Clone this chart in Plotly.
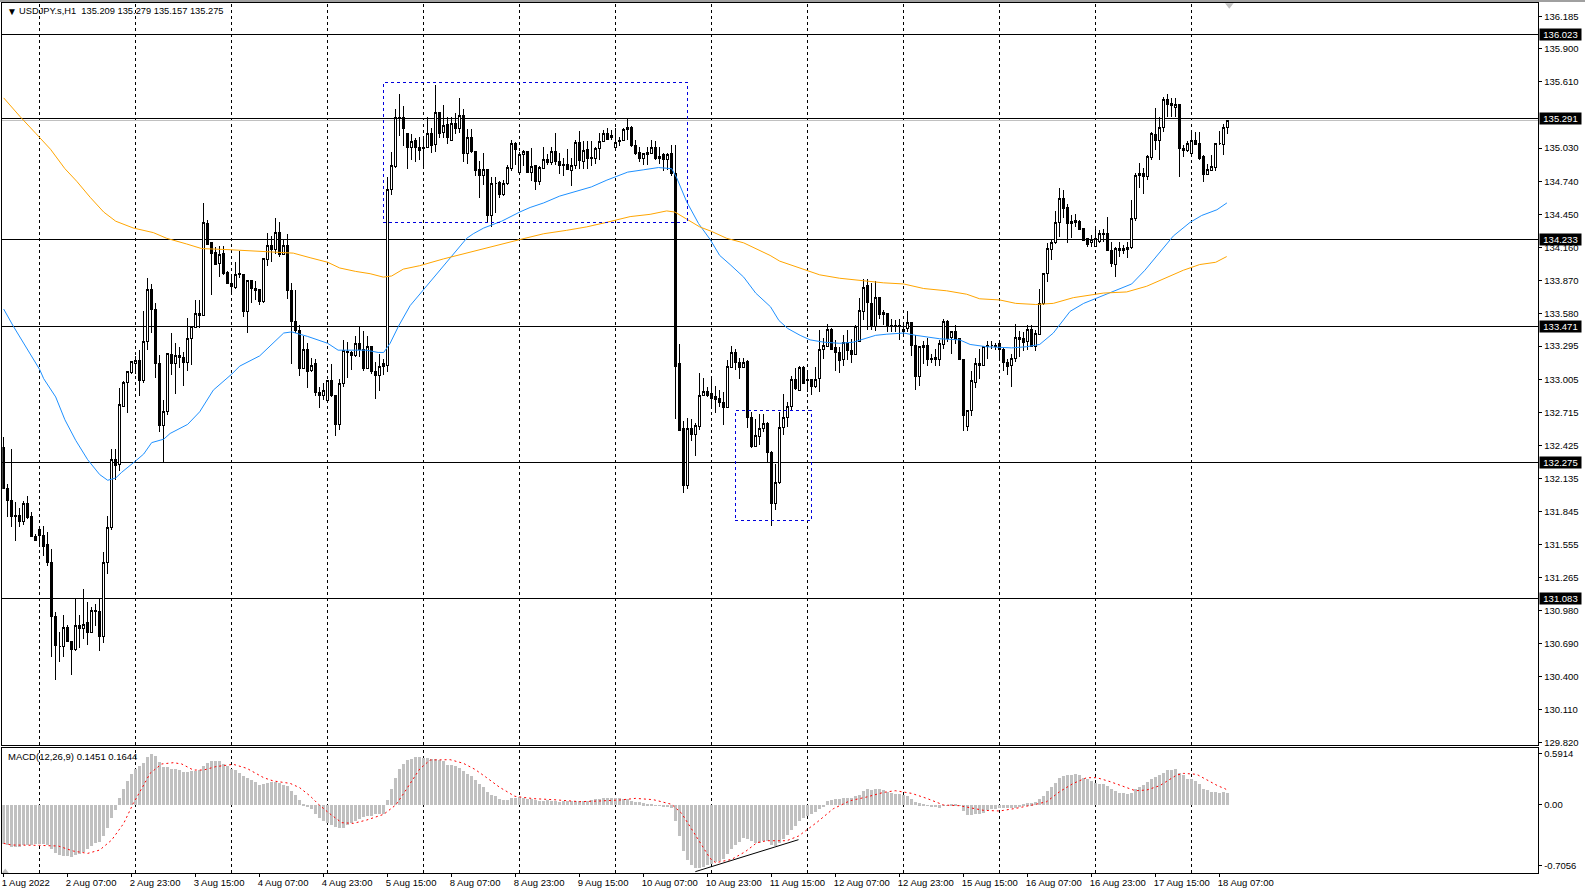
import plotly.graph_objects as go

opens = [132.41,132.05,131.94,131.81,131.81,131.76,131.92,131.80,131.63,131.69,
131.64,131.56,131.40,130.93,130.66,130.66,130.83,130.71,130.64,130.85,
130.82,130.87,130.79,130.98,130.97,130.75,131.40,131.71,132.30,132.26,
132.77,132.98,133.06,133.14,133.17,132.99,133.34,133.79,133.62,133.14,
132.60,132.72,133.22,133.14,133.21,133.20,133.15,133.36,133.46,133.58,
133.56,134.37,134.20,134.12,134.02,134.11,133.94,133.84,133.81,133.93,
133.92,133.60,133.87,133.80,133.79,133.69,134.05,134.18,134.14,134.29,
134.10,134.18,133.78,133.51,133.43,133.10,133.27,133.08,133.14,132.89,
132.86,132.82,132.99,132.86,132.61,132.97,133.25,133.24,133.21,133.32,
133.27,133.10,133.29,133.07,133.04,133.14,133.13,134.67,134.87,135.30,
135.30,135.16,135.04,135.10,135.04,135.04,135.04,135.16,135.06,135.34,
135.17,135.24,135.10,135.25,135.20,135.32,134.98,135.12,135.00,134.84,
134.79,134.84,134.44,134.72,134.73,134.62,134.72,134.85,135.07,134.82,
134.97,135.00,134.82,134.88,134.74,134.85,134.93,134.90,135.00,134.91,
134.89,134.89,134.83,134.88,135.08,134.91,135.02,134.95,134.94,135.03,
135.09,135.16,135.12,135.04,135.09,135.10,135.19,135.21,135.05,134.99,
134.94,134.97,134.98,135.04,134.94,134.97,134.93,134.98,134.81,133.14,
132.57,132.07,132.57,132.52,132.59,132.86,132.90,132.88,132.85,132.84,
132.80,132.76,133.11,133.24,133.15,133.11,133.16,132.67,132.42,132.50,
132.57,132.62,132.36,131.92,132.10,132.58,132.67,132.77,133.00,132.91,
133.11,133.00,133.00,132.94,133.01,133.27,133.29,133.44,133.28,133.24,
133.18,133.33,133.26,133.22,133.34,133.60,133.83,133.67,133.47,133.72,
133.59,133.58,133.48,133.48,133.48,133.42,133.45,133.50,133.30,133.03,
133.30,133.30,133.19,133.20,133.18,133.31,133.51,133.37,133.42,133.36,
133.18,132.59,132.73,132.98,133.14,133.13,133.29,133.30,133.30,133.32,
133.27,133.15,133.13,133.19,133.37,133.36,133.34,133.44,133.29,133.40,
133.67,133.93,134.14,134.20,134.38,134.59,134.51,134.39,134.38,134.39,
134.33,134.24,134.20,134.17,134.21,134.28,134.28,134.13,134.01,134.15,
134.13,134.14,134.16,134.41,134.81,134.81,134.78,134.95,135.15,135.10,
135.21,135.455,135.42,135.39,135.41,135.03,135.01,134.98,135.10,135.07,
134.96,134.80,134.83,134.86,135.07,135.06,135.209]

highs = [132.50,132.09,132.39,131.93,131.88,131.94,131.98,131.84,131.65,131.72,
131.72,131.67,131.52,130.97,130.79,130.94,130.85,130.71,131.08,130.94,
131.17,131.05,131.01,131.04,131.08,131.49,131.81,132.39,132.39,132.93,
132.99,133.08,133.16,133.21,133.26,133.60,133.89,133.84,133.67,133.22,
132.82,133.23,133.41,133.32,133.29,133.24,133.54,133.47,133.70,133.70,
134.55,134.40,134.20,134.16,134.17,134.17,133.95,133.92,134.03,134.13,
133.92,133.87,133.87,133.87,133.79,134.06,134.29,134.26,134.42,134.38,
134.23,134.28,133.85,133.79,133.48,133.38,133.32,133.19,133.18,132.94,
132.97,133.00,133.14,132.86,133.01,133.35,133.33,133.25,133.38,133.46,
133.43,133.38,133.30,133.16,133.23,133.18,134.78,135.00,135.37,135.50,
135.40,135.16,135.15,135.12,135.13,135.12,135.30,135.21,135.58,135.34,
135.41,135.30,135.30,135.34,135.47,135.37,135.20,135.20,135.00,134.92,
134.99,134.84,134.78,134.78,134.74,134.75,134.88,135.10,135.08,135.00,
135.01,135.00,135.03,134.88,134.87,135.04,134.98,135.04,135.16,134.99,
134.94,135.02,134.94,135.10,135.18,135.09,135.09,135.09,135.04,135.16,
135.19,135.21,135.19,135.21,135.13,135.21,135.29,135.22,135.10,135.04,
134.99,135.04,135.10,135.09,135.04,134.99,134.99,135.06,135.06,133.31,
132.64,132.67,132.66,132.62,133.06,133.02,132.94,133.02,132.95,132.91,
132.89,133.17,133.30,133.27,133.19,133.19,133.17,132.72,132.66,132.70,
132.70,132.63,132.38,132.26,132.72,132.88,132.81,133.03,133.10,133.12,
133.12,133.08,133.01,133.11,133.44,133.37,133.49,133.45,133.35,133.29,
133.39,133.44,133.36,133.48,133.72,133.88,133.88,133.85,133.87,133.72,
133.61,133.58,133.53,133.52,133.53,133.48,133.60,133.51,133.39,133.30,
133.34,133.37,133.23,133.27,133.35,133.53,133.52,133.43,133.48,133.37,
133.18,132.74,133.08,133.19,133.27,133.29,133.34,133.34,133.32,133.32,
133.28,133.18,133.23,133.49,133.43,133.42,133.48,133.48,133.44,133.80,
133.94,134.20,134.23,134.48,134.68,134.66,134.54,134.44,134.45,134.40,
134.33,134.24,134.27,134.33,134.31,134.32,134.43,134.21,134.16,134.21,
134.18,134.21,134.58,134.81,134.90,134.86,134.97,135.17,135.385,135.30,
135.48,135.50,135.47,135.47,135.42,135.06,135.09,135.17,135.17,135.17,
134.97,134.89,134.97,135.07,135.18,135.24,135.279]

lows = [132.05,131.80,131.71,131.59,131.71,131.73,131.78,131.62,131.59,131.55,
131.46,131.37,130.57,130.37,130.53,130.57,130.71,130.41,130.62,130.65,
130.73,130.68,130.79,130.84,130.62,130.69,131.30,131.68,132.12,132.20,
132.76,132.71,133.05,133.05,132.86,132.97,133.26,133.41,133.02,132.54,
132.28,132.69,133.04,132.88,133.10,132.95,133.08,133.13,133.45,133.45,
133.56,134.18,133.74,134.01,133.90,133.92,133.84,133.75,133.80,133.89,
133.55,133.41,133.67,133.70,133.66,133.67,134.00,134.03,134.10,134.08,
134.09,133.71,133.14,133.41,133.03,133.10,132.93,133.07,132.86,132.75,
132.82,132.80,132.85,132.51,132.56,132.94,133.02,133.09,133.20,133.20,
133.08,133.10,133.05,132.83,132.90,133.04,133.07,134.62,134.86,135.14,
135.05,134.85,134.93,134.91,134.93,134.86,135.03,134.99,135.00,135.12,
135.12,135.07,135.10,135.15,135.16,134.91,134.89,134.99,134.79,134.59,
134.71,134.38,134.34,134.46,134.59,134.61,134.71,134.83,134.88,134.81,
134.87,134.81,134.74,134.66,134.71,134.85,134.88,134.88,134.88,134.80,
134.79,134.84,134.70,134.85,134.85,134.85,134.85,134.87,134.89,134.93,
135.08,135.10,135.10,135.02,135.05,135.10,135.10,135.04,134.97,134.91,
134.88,134.88,134.98,134.93,134.89,134.83,134.84,134.79,132.66,132.55,
132.01,132.04,132.46,132.33,132.56,132.86,132.85,132.75,132.71,132.76,
132.60,132.75,133.11,133.09,133.01,133.11,132.58,132.40,132.42,132.43,
132.54,132.27,131.72,131.86,132.09,132.52,132.59,132.73,132.91,132.90,
132.96,132.89,132.87,132.93,132.89,133.18,133.29,133.26,133.08,133.06,
133.12,133.17,133.15,133.22,133.34,133.52,133.44,133.44,133.43,133.53,
133.48,133.42,133.42,133.42,133.35,133.39,133.42,133.21,132.91,132.95,
133.14,133.12,133.15,133.12,133.12,133.27,133.33,133.23,133.31,133.17,
132.55,132.55,132.68,132.93,133.01,133.12,133.18,133.27,133.26,133.18,
133.08,133.04,132.94,133.16,133.20,133.25,133.26,133.29,133.25,133.39,
133.66,133.86,134.05,134.19,134.25,134.42,134.20,134.24,134.34,134.32,
134.22,134.16,134.16,134.16,134.20,134.21,134.13,133.99,133.90,134.08,
134.10,134.07,134.15,134.39,134.68,134.63,134.75,134.93,135.01,134.93,
135.17,135.30,135.30,135.30,134.78,134.95,135.00,134.97,135.06,134.93,
134.73,134.80,134.83,134.83,135.06,134.97,135.157]

closes = [132.05,131.94,131.80,131.80,131.76,131.92,131.79,131.63,131.59,131.64,
131.54,131.40,130.93,130.67,130.66,130.83,130.71,130.64,130.85,130.82,
130.86,130.79,130.98,130.97,130.75,131.40,131.71,132.30,132.25,132.78,
132.98,133.07,133.16,133.17,132.99,133.34,133.79,133.62,133.14,132.60,
132.72,133.23,133.14,133.21,133.20,133.15,133.36,133.47,133.58,133.56,
134.38,134.19,134.11,134.01,134.10,133.93,133.84,133.82,133.92,133.92,
133.60,133.87,133.80,133.78,133.69,134.06,134.18,134.14,134.29,134.10,
134.18,133.78,133.51,133.43,133.10,133.27,133.07,133.13,132.89,132.86,
132.91,132.99,132.86,132.61,132.97,133.26,133.24,133.21,133.32,133.27,
133.10,133.29,133.07,133.04,133.12,133.12,134.67,134.88,135.30,135.29,
135.20,135.04,135.09,135.04,135.01,135.03,135.16,135.05,135.34,135.16,
135.23,135.12,135.25,135.20,135.32,134.98,135.12,135.00,134.83,134.79,
134.84,134.44,134.72,134.72,134.62,134.72,134.86,135.07,135.02,134.97,
135.00,134.82,134.87,134.74,134.86,134.93,134.90,135.00,134.91,134.88,
134.88,134.84,134.88,135.08,134.92,135.01,134.94,134.94,135.03,135.09,
135.16,135.11,135.14,135.08,135.10,135.19,135.21,135.05,134.98,134.94,
134.98,134.99,135.04,134.94,134.96,134.93,134.97,134.81,133.12,132.56,
132.07,132.57,132.52,132.60,132.86,132.90,132.86,132.84,132.83,132.80,
132.76,133.12,133.24,133.15,133.11,133.15,132.67,132.42,132.51,132.57,
132.62,132.36,131.92,132.10,132.58,132.67,132.77,133.00,132.92,133.11,
132.97,132.99,132.94,133.00,133.27,133.30,133.44,133.27,133.24,133.17,
133.33,133.26,133.22,133.47,133.61,133.81,133.68,133.47,133.72,133.57,
133.57,133.47,133.47,133.47,133.47,133.44,133.50,133.30,133.03,133.29,
133.28,133.18,133.18,133.18,133.32,133.51,133.36,133.42,133.35,133.18,
132.69,132.73,132.99,133.14,133.13,133.29,133.30,133.30,133.29,133.27,
133.15,133.12,133.19,133.37,133.35,133.33,133.44,133.29,133.41,133.67,
133.93,134.15,134.20,134.38,134.59,134.50,134.37,134.37,134.40,134.32,
134.22,134.19,134.23,134.24,134.28,134.27,134.13,134.02,134.15,134.13,
134.15,134.16,134.41,134.79,134.79,134.78,134.96,135.16,135.10,135.21,
135.46,135.41,135.40,135.41,135.03,135.01,135.07,135.10,135.06,134.94,
134.80,134.84,134.87,135.07,135.07,135.21,135.275]

macd_hist = [-.449,-.460,-.487,-.487,-.487,-.468,-.468,-.460,-.456,-.456,
-.456,-.468,-.507,-.553,-.576,-.592,-.592,-.603,-.584,-.565,
-.545,-.514,-.476,-.445,-.429,-.360,-.267,-.151,-.062,.077,
.186,.278,.356,.422,.449,.487,.553,.588,.568,.499,
.441,.441,.422,.414,.402,.383,.383,.394,.394,.402,
.449,.491,.507,.507,.507,.480,.449,.422,.402,.375,
.336,.313,.294,.267,.236,.244,.251,.267,.267,.255,
.236,.217,.159,.112,.054,.015,-.023,-.050,-.101,-.151,
-.189,-.205,-.228,-.255,-.267,-.267,-.228,-.205,-.189,-.159,
-.139,-.131,-.131,-.108,-.108,-.108,.054,.182,.313,.414,
.480,.518,.538,.553,.553,.545,.545,.530,.530,.518,
.507,.468,.460,.452,.433,.391,.364,.336,.286,.240,
.209,.151,.120,.101,.066,.054,.054,.081,.085,.089,
.085,.073,.066,.054,.046,.046,.054,.046,.043,.035,
.043,.043,.043,.046,.046,.046,.046,.054,.066,.073,
.081,.081,.081,.085,.085,.073,.066,.046,.035,.035,
.023,.015,.008,-.001,-.004,-.012,-.015,-.031,-.189,-.364,
-.538,-.634,-.700,-.727,-.731,-.719,-.700,-.688,-.661,-.650,
-.630,-.565,-.514,-.468,-.429,-.379,-.398,-.422,-.437,-.437,
-.422,-.422,-.468,-.476,-.437,-.398,-.352,-.286,-.244,-.186,
-.151,-.131,-.108,-.081,-.050,-.012,.046,.054,.066,.066,
.077,.077,.077,.101,.120,.159,.182,.170,.182,.182,
.170,.151,.143,.131,.124,.112,.101,.073,.031,.023,
.012,-.008,-.015,-.023,-.039,-.008,-.004,.008,.008,-.004,
-.073,-.120,-.120,-.108,-.108,-.089,-.062,-.050,-.043,-.035,
-.035,-.035,-.035,-.035,-.012,.008,.019,.019,.035,.066,
.101,.159,.209,.255,.313,.336,.344,.344,.356,.344,
.313,.298,.275,.259,.247,.240,.220,.182,.159,.143,
.135,.124,.135,.182,.209,.228,.263,.298,.329,.344,
.375,.402,.402,.414,.375,.344,.305,.305,.275,.240,
.189,.170,.147,.147,.135,.147,.145]

blue_ma_bar = [0,2.4,9,10,13,15.3,18,21,24,26,28,29.5,33,35,37,40,41.6,46,49,52.4,57,59,64,66.6,70,72,76,81,83.6,87,90.6,93.6,95,96.6,98.7,101.6,104,
115.75,117.4,120,124.5,126.6,129,131.6,135,139,143,146.9,150.8,153,156,159.9,163.7,167,168.25,170.75,173.7,176.6,179,181.6,185,188,191.7,193.8,196,199.1,201.6,205,209,212.4,215,218,220.8,225,228,234,239,241.6,245.7,252,255.7,259,262.4,266.6,270,272.8,276.6,282,285.3,289,292.4,296.6,299.5,303.3,305.8]
blue_ma_val = [133.62,133.47,133.09,133.01,132.85,132.65,132.47,132.30,132.17,132.12,132.14,132.19,132.29,132.35,132.45,132.48,132.53,132.61,132.72,132.91,133.05,133.12,133.21,133.30,133.41,133.42,133.38,133.32,133.26,133.26,133.26,133.24,133.24,133.32,133.47,133.65,133.75,
134.24,134.28,134.33,134.39,134.43,134.47,134.51,134.55,134.61,134.65,134.69,134.75,134.78,134.82,134.84,134.86,134.85,134.77,134.56,134.37,134.23,134.09,134.01,133.90,133.76,133.64,133.52,133.45,133.39,133.35,133.33,133.32,133.33,133.36,133.39,133.40,133.41,133.39,133.36,133.35,133.31,133.29,133.28,133.29,133.31,133.41,133.60,133.67,133.71,133.77,133.84,133.96,134.12,134.26,134.38,134.44,134.49,134.55]

orange_ma_bar = [0,4,8,11.7,15.3,18.25,21.6,25,28,32.4,37.4,40.75,45.75,49.5,56.6,62.4,67.4,72.4,76.6,81,84,88,91.6,94.9,97,99.9,104,110,130.3,135,140.75,145.75,150.75,156.6,161.6,165.75,167.8,171.6,174,177,180.75,185,191.6,194,197.4,200.75,204,209,214,219.9,225,230,235.75,240.75,244,249,253,258,262.4,267.4,274.9,280.75,285.75,290.75,294.9,299,303,305.75]
orange_ma_val = [135.47,135.31,135.16,135.02,134.85,134.74,134.60,134.47,134.39,134.33,134.29,134.24,134.19,134.15,134.14,134.13,134.12,134.11,134.07,134.03,133.98,133.95,133.93,133.90,133.91,133.97,134.00,134.06,134.24,134.28,134.31,134.34,134.38,134.43,134.45,134.48,134.47,134.39,134.34,134.30,134.24,134.20,134.09,134.04,134.00,133.96,133.92,133.89,133.87,133.85,133.84,133.80,133.78,133.75,133.71,133.70,133.67,133.66,133.67,133.72,133.76,133.77,133.82,133.90,133.96,134.01,134.03,134.08]

signal_bar = [0,2,9,13.7,17.4,21,24,27,30,32.4,35,36.6,39.5,42.4,44.5,47.4,50,53,57.4,60.75,65,67.4,71.6,74,76.6,78.7,81.6,84.5,87.4,90.75,95,98,100,102.8,
104,106.6,111.6,114.9,117.8,120.75,124,127.8,132.4,137.4,144,149,154,158,162.4,167,169.5,171.6,174.5,176.6,178,182,185.4,188.3,190.75,195.75,198.7,203.3,207.4,
211.6,215.75,220,222.9,227,230.75,235,239,241.6,245,249,253,258,260.75,264,267.4,270.75,273.3,276.6,279.9,282.9,285.75,289,293.25,295,298.25,300.75,303.6,305.3,306]
signal_val = [-.449,-.468,-.472,-.480,-.538,-.565,-.526,-.410,-.217,.015,.228,.364,.472,.487,.472,.402,.402,.441,.468,.422,.313,.275,.247,.197,.101,.004,-.108,-.209,-.217,-.178,-.112,-.004,.131,.325,
.414,.518,.522,.480,.410,.313,.201,.097,.070,.058,.035,.043,.054,.073,.058,.004,-.101,-.255,-.460,-.623,-.673,-.634,-.545,-.441,-.418,-.418,-.364,-.205,-.047,
.046,.089,.143,.162,.131,.073,-.004,-.012,-.039,-.066,-.073,-.043,.004,.035,.151,.247,.313,.313,.267,.209,.162,.170,.220,.344,.363,.352,.286,.217,.186,.1644]

tick_bars = list(range(0, 305, 16))
tick_labels = ["1 Aug 2022","2 Aug 07:00","2 Aug 23:00","3 Aug 15:00","4 Aug 07:00","4 Aug 23:00","5 Aug 15:00","8 Aug 07:00","8 Aug 23:00","9 Aug 15:00","10 Aug 07:00","10 Aug 23:00","11 Aug 15:00","12 Aug 07:00","12 Aug 23:00","15 Aug 15:00","16 Aug 07:00","16 Aug 23:00","17 Aug 15:00","18 Aug 07:00"]
day_bars = list(range(9, 320, 24))
price_ticks = [136.185,135.900,135.610,135.030,134.740,134.450,134.160,133.870,133.580,133.295,133.005,132.715,132.425,132.135,131.845,131.555,131.265,130.980,130.690,130.400,130.110,129.820]
macd_ticks = [0.5914,0.0,-0.7056]
macd_tick_labels = ["0.5914","0.00","-0.7056"]
levels = [136.023,135.291,134.233,133.471,132.275,131.083]
last_price = 135.275
rect_a = [94.9,170.9,134.375,135.605]
rect_b = [182.9,201.9,131.765,132.73]
macd_trend = [[172.9,198.7],[-0.777,-0.406]]
bars = list(range(len(opens)))

W, H = 1585, 891
FONT = "Liberation Sans"
BLUE_DASH = "#0000dd"
fig = go.Figure()
fig.add_trace(go.Scatter(x=blue_ma_bar, y=blue_ma_val, mode="lines", line=dict(color="#1E90FF", width=1), xaxis="x", yaxis="y"))
fig.add_trace(go.Scatter(x=orange_ma_bar, y=orange_ma_val, mode="lines", line=dict(color="#FFA500", width=1), xaxis="x", yaxis="y"))
fig.add_trace(go.Candlestick(x=bars, open=opens, high=highs, low=lows, close=closes,
    increasing=dict(line=dict(color="black", width=1), fillcolor="white"),
    decreasing=dict(line=dict(color="black", width=1), fillcolor="black"),
    whiskerwidth=0, xaxis="x", yaxis="y"))
fig.add_trace(go.Bar(x=bars, y=macd_hist, width=0.75, marker=dict(color="#C0C0C0", line=dict(width=0)), xaxis="x2", yaxis="y2"))
fig.add_trace(go.Scatter(x=signal_bar, y=signal_val, mode="lines", line=dict(color="#FF0000", width=1, dash="2px 3px"), xaxis="x2", yaxis="y2"))
fig.add_trace(go.Scatter(x=macd_trend[0], y=macd_trend[1], mode="lines", line=dict(color="black", width=1), xaxis="x2", yaxis="y2"))
fig.add_trace(go.Scatter(x=[306.4], y=[136.295], mode="markers", marker=dict(symbol="triangle-down", size=10, color="#C0C0C0"), xaxis="x", yaxis="y"))
fig.add_trace(go.Scatter(x=[0.4], y=[-0.775], mode="markers", marker=dict(symbol="triangle-up", size=6, color="#C0C0C0"), xaxis="x2", yaxis="y2"))

shapes = []
for b in day_bars:
    for yr in ("y domain", "y2 domain"):
        shapes.append(dict(type="line", xref="x", yref=yr, x0=b-0.1, x1=b-0.1, y0=0, y1=1, layer="below",
                           line=dict(color="black", width=1, dash="3px 3px")))
for lv in levels:
    shapes.append(dict(type="line", xref="x domain", yref="y", x0=0, x1=1, y0=lv, y1=lv, layer="below", line=dict(color="black", width=1)))
shapes.append(dict(type="line", xref="x domain", yref="y", x0=0, x1=1, y0=last_price, y1=last_price, layer="below", line=dict(color="#C0C0C0", width=1)))
for r in (rect_a, rect_b):
    shapes.append(dict(type="rect", xref="x", yref="y", x0=r[0], x1=r[1], y0=r[2], y1=r[3],
                       line=dict(color=BLUE_DASH, width=1, dash="3px 3px")))
shapes.append(dict(type="rect", xref="paper", yref="paper", x0=0, x1=1, y0=1-1.5/H, y1=1, line=dict(width=0), fillcolor="#A0A0A0"))

annots = [
    dict(text="▼", xref="paper", yref="paper", x=5/W, y=1-11.5/H, xanchor="left", yanchor="middle", showarrow=False, font=dict(family=FONT, size=10, color="black")),
    dict(text="USDJPY.s,H1  135.209 135.279 135.157 135.275", xref="paper", yref="paper", x=16.5/W, y=1-11.5/H, xanchor="left", yanchor="middle", showarrow=False, font=dict(family=FONT, size=9.3, color="black")),
    dict(text="MACD(12,26,9) 0.1451 0.1644", xref="paper", yref="paper", x=5.5/W, y=1-756/H, xanchor="left", yanchor="middle", showarrow=False, font=dict(family=FONT, size=9.5, color="black")),
]
for lv in levels:
    annots.append(dict(text=f"{lv:.3f}", xref="paper", yref="y", x=1539/W, y=lv, xanchor="left", yanchor="middle", showarrow=False,
                       width=41, height=11, bgcolor="black", borderpad=0, align="center", font=dict(family=FONT, size=9.5, color="white")))

axis_common = dict(showgrid=False, zeroline=False, showline=True, linecolor="black", linewidth=1, mirror=True, automargin=False)
fig.update_layout(
    width=W, height=H, margin=dict(l=0, r=0, t=0, b=0), paper_bgcolor="white", plot_bgcolor="white",
    showlegend=False, bargap=0, barmode="overlay", hovermode=False,
    font=dict(family=FONT, size=9.5, color="black"),
    xaxis=dict(domain=[2.3/W, 1538.3/W], range=[-0.35, 383.65], anchor="y", showticklabels=False, ticks="", rangeslider=dict(visible=False), **axis_common),
    xaxis2=dict(domain=[2.3/W, 1538.3/W], range=[-0.35, 383.65], anchor="y2", matches="x", tickmode="array", tickvals=tick_bars, ticktext=tick_labels,
                ticks="outside", ticklen=3, tickcolor="black", ticklabelposition="outside right", ticklabeloverflow="allow", ticklabelshift=-3, tickangle=0, tickfont=dict(family=FONT, size=9.5), **axis_common),
    yaxis=dict(domain=[1-744.5/H, 1-3.3/H], range=[129.805, 136.299], side="right", anchor="x", tickmode="array", tickvals=price_ticks, ticktext=[f"{v:.3f}" for v in price_ticks],
               ticks="outside", ticklen=3, tickcolor="black", tickfont=dict(family=FONT, size=9.5), **axis_common),
    yaxis2=dict(domain=[1-873.3/H, 1-747.6/H], range=[-0.796, 0.662], side="right", anchor="x2", tickmode="array", tickvals=macd_ticks, ticktext=macd_tick_labels,
                ticks="outside", ticklen=3, tickcolor="black", tickfont=dict(family=FONT, size=9.5), **axis_common),
    shapes=shapes, annotations=annots,
)
fig.write_html("out.html", config=dict(displayModeBar=False),
               post_script="document.body.style.margin='0';document.querySelectorAll('.shapelayer path,.boxlayer path').forEach(function(p){p.style.shapeRendering='crispEdges';});")
